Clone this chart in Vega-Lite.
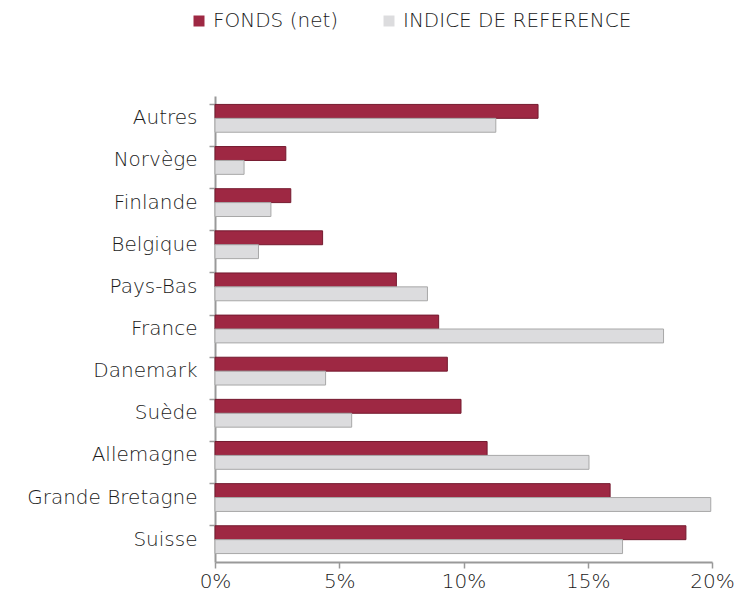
{
  "$schema": "https://vega.github.io/schema/vega-lite/v6.json",
  "width": 497,
  "height": 466,
  "autosize": "none",
  "padding": {"left": 215, "top": 96, "right": 42, "bottom": 34},
  "background": "white",
  "config": {
    "font": "DejaVu Sans",
    "view": {"stroke": null},
    "axis": {"labelFont": "DejaVu Sans", "labelFontWeight": 200, "labelColor": "#1a1a1a", "labelFontSize": 20, "domainColor": "#999999", "tickColor": "#999999", "domainWidth": 2, "tickWidth": 1.5}
  },
  "data": {
    "values": [
      {"pays": "Autres", "serie": "FONDS (net)", "v": 13.0},
      {"pays": "Autres", "serie": "INDICE DE REFERENCE", "v": 11.3},
      {"pays": "Norvège", "serie": "FONDS (net)", "v": 2.85},
      {"pays": "Norvège", "serie": "INDICE DE REFERENCE", "v": 1.17},
      {"pays": "Finlande", "serie": "FONDS (net)", "v": 3.05},
      {"pays": "Finlande", "serie": "INDICE DE REFERENCE", "v": 2.25},
      {"pays": "Belgique", "serie": "FONDS (net)", "v": 4.33},
      {"pays": "Belgique", "serie": "INDICE DE REFERENCE", "v": 1.75},
      {"pays": "Pays-Bas", "serie": "FONDS (net)", "v": 7.3},
      {"pays": "Pays-Bas", "serie": "INDICE DE REFERENCE", "v": 8.55},
      {"pays": "France", "serie": "FONDS (net)", "v": 9.0},
      {"pays": "France", "serie": "INDICE DE REFERENCE", "v": 18.05},
      {"pays": "Danemark", "serie": "FONDS (net)", "v": 9.35},
      {"pays": "Danemark", "serie": "INDICE DE REFERENCE", "v": 4.45},
      {"pays": "Suède", "serie": "FONDS (net)", "v": 9.9},
      {"pays": "Suède", "serie": "INDICE DE REFERENCE", "v": 5.5},
      {"pays": "Allemagne", "serie": "FONDS (net)", "v": 10.95},
      {"pays": "Allemagne", "serie": "INDICE DE REFERENCE", "v": 15.05},
      {"pays": "Grande Bretagne", "serie": "FONDS (net)", "v": 15.9},
      {"pays": "Grande Bretagne", "serie": "INDICE DE REFERENCE", "v": 19.95},
      {"pays": "Suisse", "serie": "FONDS (net)", "v": 18.95},
      {"pays": "Suisse", "serie": "INDICE DE REFERENCE", "v": 16.4}
    ]
  },
  "mark": {"type": "bar", "strokeWidth": 1},
  "encoding": {
    "y": {
      "field": "pays", "type": "nominal", "sort": null,
      "scale": {"paddingInner": 0.34, "paddingOuter": 0.2},
      "axis": {"title": null, "bandPosition": 0, "tickSize": 6, "labelPadding": 12, "grid": false}
    },
    "yOffset": {"field": "serie", "type": "nominal", "sort": ["FONDS (net)", "INDICE DE REFERENCE"]},
    "x": {
      "field": "v", "type": "quantitative",
      "scale": {"domain": [0, 20], "nice": false},
      "axis": {"title": null, "values": [0, 5, 10, 15, 20], "labelExpr": "datum.value + '%'", "grid": false, "tickSize": 6, "labelPadding": 3, "labelFlush": false}
    },
    "color": {
      "field": "serie", "type": "nominal",
      "scale": {"domain": ["FONDS (net)", "INDICE DE REFERENCE"], "range": ["#9E2843", "#DCDCDE"]},
      "legend": {
        "title": null, "orient": "none", "legendX": -26, "legendY": -85, "direction": "horizontal", "columns": 2,
        "symbolType": "square", "symbolSize": 121, "symbolStrokeWidth": 0, "labelFontSize": 20, "labelFont": "DejaVu Sans", "labelFontWeight": 200, "labelColor": "#1a1a1a", "labelOffset": 4, "labelLimit": 400, "columnPadding": 40
      }
    },
    "stroke": {
      "field": "serie", "type": "nominal",
      "scale": {"domain": ["FONDS (net)", "INDICE DE REFERENCE"], "range": ["#741A2F", "#A8A8A8"]},
      "legend": null
    }
  }
}
